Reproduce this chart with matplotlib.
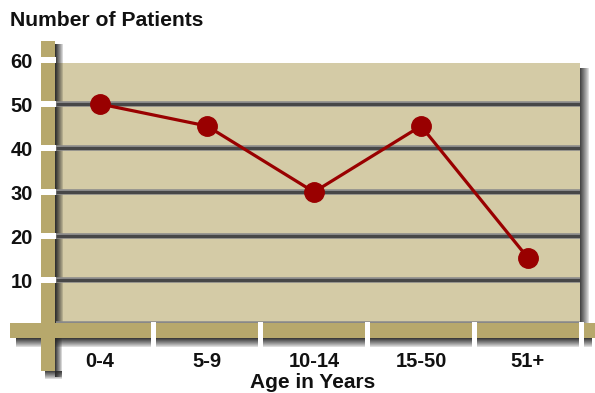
import matplotlib.pyplot as plt
from matplotlib.patches import Rectangle
from matplotlib.transforms import Affine2D, blended_transform_factory

age_groups = ["0-4", "5-9", "10-14", "15-50", "51+"]
patients = [50, 45, 30, 45, 15]
y_ticks = [10, 20, 30, 40, 50, 60]
grid_levels = [0, 10, 20, 30, 40, 50]

PANEL = "#D4CBA6"
BAR = "#B7A86C"
RED = "#990000"
INK = "#111111"

plt.rcParams["font.family"] = ["Liberation Sans", "DejaVu Sans"]
plt.rcParams["font.weight"] = "bold"

W, H = 595, 393
fig = plt.figure(figsize=(W / 100, H / 100), dpi=100)
# pixel coordinates, origin at top-left
px = Affine2D().scale(1 / W, -1 / H).translate(0, 1) + fig.transFigure

ax = fig.add_axes([56 / W, 69 / H, 524 / W, 264 / H])
ax.set_xlim(-0.411, 4.486)
ax.set_ylim(0, 60)
ax.set_facecolor("none")
for s in ax.spines.values():
    s.set_visible(False)

x = list(range(len(age_groups)))
x_px = blended_transform_factory(ax.transData, px)   # x in data, y in pixels
px_y = blended_transform_factory(px, ax.transData)   # x in pixels, y in data


def box(x0, y0, x1, y1, color, z, alpha=1.0, tr=px):
    ax.add_patch(Rectangle((x0, y0), x1 - x0, y1 - y0, transform=tr,
                           facecolor=color, edgecolor="none", alpha=alpha,
                           zorder=z, clip_on=False, antialiased=False))


def shadow(x0, y0, x1, y1, direction, z, strength=0.9):
    n = int(x1 - x0) if direction == "right" else int(y1 - y0)
    for k in range(n):
        a = strength * (1 - k / n) ** 0.8
        if direction == "right":
            box(x0 + k, y0, x0 + k + 1, y1, "#262626", z, a)
        else:
            box(x0, y0 + k, x1, y0 + k + 1, "#262626", z, a)


# background panel with its drop shadow
shadow(580, 68, 589, 326, "right", 1, 0.85)
box(56, 63, 580, 323, PANEL, 1.5)

# shadow cast by the vertical post
shadow(55, 44, 63, 323, "right", 2, 0.95)
shadow(55, 338, 62, 377, "right", 2, 0.9)
shadow(45, 371, 62, 379, "down", 2, 0.85)

# horizontal grid bands
ax.hlines(grid_levels, -0.411, 4.486, color="#8a8a8a", lw=4.0, zorder=3, clip_on=False)
ax.hlines(grid_levels, -0.411, 4.486, color="#474747", lw=2.2, zorder=3.1, clip_on=False)

# horizontal base bar and its shadow
shadow(16, 338, 592, 347, "down", 2, 0.9)
box(10, 323, 595, 338, BAR, 4)
for i in x:
    box(i + 0.5 - 0.024, 322, i + 0.5 + 0.024, 350, "white", 5, tr=x_px)

# vertical post with white notches at the ticks
box(41, 41, 55, 371, BAR, 4.5)
for v in y_ticks:
    box(40, v - 0.6, 56, v + 0.6, "white", 5, tr=px_y)

ax.plot(x, patients, color=RED, lw=2.3, marker="o", ms=14, mfc=RED, mec=RED,
        zorder=6, clip_on=False)

ax.set_yticks(y_ticks)
ax.set_yticklabels([str(v) for v in y_ticks])
ax.set_xticks(x)
ax.set_xticklabels(age_groups)
ax.tick_params(axis="y", length=0, pad=16.6, labelsize=14.5, labelcolor=INK)
ax.tick_params(axis="x", length=0, pad=20.5, labelsize=14.5, labelcolor=INK)

fig.text(10 / W, 1 - 26 / H, "Number of Patients", fontsize=15.2,
         fontweight="bold", color=INK, va="baseline", ha="left")
fig.text(313 / W, 1 - 388 / H, "Age in Years", fontsize=15,
         fontweight="bold", color=INK, va="baseline", ha="center")

fig.savefig("out.png", dpi=100)
